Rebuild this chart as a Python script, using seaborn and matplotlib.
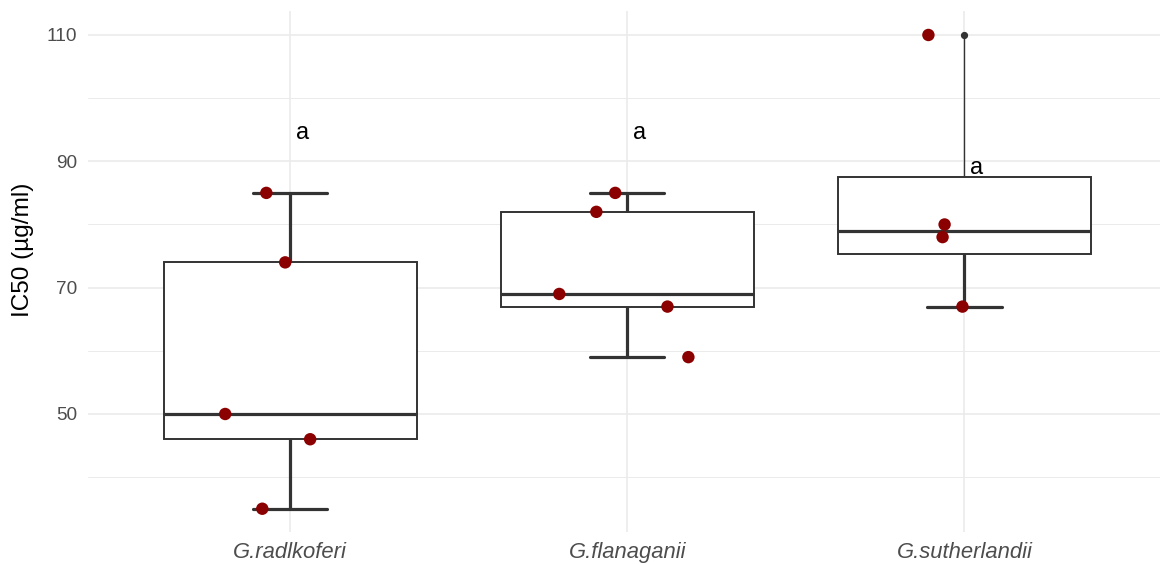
import numpy as np
import pandas as pd
import seaborn as sns
import matplotlib.pyplot as plt

# data
species = ["G.radlkoferi", "G.flanaganii", "G.sutherlandii"]
ic50_rad = [85, 74, 50, 46, 35]
ic50_fla = [85, 82, 69, 67, 59]
ic50_sut = [110, 80, 78, 67]
# horizontal jitter of the points (category units)
jit_rad = [-0.071, -0.015, -0.193, 0.059, -0.083]
jit_fla = [-0.036, -0.092, -0.202, 0.119, 0.181]
jit_sut = [-0.107, -0.059, -0.065, -0.006]
letters = ["a", "a", "a"]
letter_y = [94.5, 94.5, 89.0]

df = pd.DataFrame({
    "species": [species[0]] * len(ic50_rad) + [species[1]] * len(ic50_fla) + [species[2]] * len(ic50_sut),
    "ic50": ic50_rad + ic50_fla + ic50_sut,
    "jit": jit_rad + jit_fla + jit_sut,
})
df["xpos"] = df["species"].map({s: i for i, s in enumerate(species)}) + df["jit"]

sns.set_style("white")
plt.rcParams['font.family'] = ['Liberation Sans', 'DejaVu Sans']

fig = plt.figure(figsize=(11.6, 5.64), dpi=100)
ax = fig.add_axes([88 / 1160, 0.056, 1 - 88 / 1160, 0.924])

line = "#333333"

# thin whisker out to the max (shows the line up to the outlier)
sns.boxplot(data=df, x="species", y="ic50", order=species, whis=(0, 100), width=0.75,
            showbox=False, showcaps=False, showfliers=False,
            medianprops=dict(visible=False),
            whiskerprops=dict(color=line, linewidth=1.0),
            ax=ax)

# main box with thick whiskers and caps
sns.boxplot(data=df, x="species", y="ic50", order=species, width=0.75,
            color="white", saturation=1, linecolor=line,
            boxprops=dict(linewidth=1.4, edgecolor=line, facecolor="white"),
            whiskerprops=dict(color=line, linewidth=2.3),
            capprops=dict(color=line, linewidth=2.3),
            medianprops=dict(color=line, linewidth=2.3),
            flierprops=dict(marker="o", markersize=4.2, markerfacecolor=line, markeredgecolor=line),
            capwidths=0.22,
            ax=ax)

# hide caps sitting on zero-length whiskers (whisker ends inside the box)
box = ax.containers[-1]
for w, c in zip(box.whiskers, box.caps):
    yd = w.get_ydata()
    if yd[0] == yd[1]:
        c.set_visible(False)
        w.set_visible(False)

sns.scatterplot(data=df, x="xpos", y="ic50", color="#8B0000", s=80, edgecolor="none",
                zorder=5, legend=False, ax=ax)

for i, (lab, y) in enumerate(zip(letters, letter_y)):
    ax.text(i + 0.035, y, lab, ha="center", va="center", fontsize=17, color="black", zorder=6)

ax.set_xlim(-0.6, 2.58)
ax.set_ylim(31.25, 113.75)
ax.set_xticks([0, 1, 2])
ax.set_xticklabels(species, fontstyle="italic", fontsize=15.8)
ax.set_yticks([50, 70, 90, 110])
ax.set_yticks([40, 60, 80, 100], minor=True)
ax.tick_params(axis="both", which="both", length=0, labelcolor="#4D4D4D")
ax.tick_params(axis="y", pad=8, labelsize=13.7)
ax.tick_params(axis="x", pad=7)
ax.grid(True, which="major", color="#EBEBEB", linewidth=1.2)
ax.grid(True, which="minor", axis="y", color="#EBEBEB", linewidth=0.7)
ax.set_axisbelow(True)
for s in ax.spines.values():
    s.set_visible(False)

ax.set_xlabel("")
ax.set_ylabel("IC50 (µg/ml)", fontsize=17.6, color="black")
ax.yaxis.set_label_coords(-0.050, 0.542)

fig.savefig("out.png", dpi=100)
